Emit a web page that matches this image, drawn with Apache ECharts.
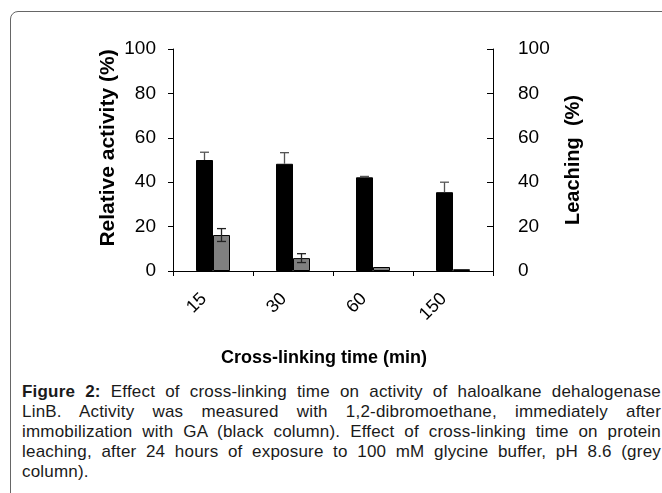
<!DOCTYPE html>
<html>
<head>
<meta charset="utf-8">
<script src="https://cdn.jsdelivr.net/npm/echarts@6/dist/echarts.min.js"></script>
<style>
  body { margin: 0; background: #fff; }
  #frame {
    position: absolute; left: 10px; top: 11px; width: 720px; height: 600px;
    border: 1px solid #666; border-radius: 8px;
  }
  #chart { position: absolute; left: 0; top: 0; width: 662px; height: 372px; }
  #caption {
    position: absolute; left: 22px; top: 382px; width: 639px;
    font-family: "Liberation Sans", Arial, sans-serif; font-size: 17px;
    letter-spacing: 0.2px; line-height: 20px; color: #1a1a1a;
  }
  #caption div { text-align: justify; text-align-last: justify; white-space: nowrap; }
  #caption div.last { text-align-last: left; }
</style>
</head>
<body>
<div id="frame"></div>
<div id="chart"></div>
<div id="caption">
  <div><b>Figure 2:</b> Effect of cross-linking time on activity of haloalkane dehalogenase</div>
  <div>LinB. Activity was measured with 1,2-dibromoethane, immediately after</div>
  <div>immobilization with GA (black column). Effect of cross-linking time on protein</div>
  <div>leaching, after 24 hours of exposure to 100 mM glycine buffer, pH 8.6 (grey</div>
  <div class="last">column).</div>
</div>
<script>
const categories = ["15", "30", "60", "150"];
const activity = [50, 48.3, 42.2, 35.5];
const activityErr = [3.5, 5, 0.4, 4.5];
const leaching = [16.2, 5.8, 1.8, 0.8];
const leachingErr = [2.9, 2, 0, 0];

const font = "Liberation Sans";
const barW = 17;

// error bars drawn on the library's coordinates; the black bars only show the upper half
function errorSeries(values, errs, side, yIndex, color, upperOnly) {
  return {
    type: "custom",
    yAxisIndex: yIndex,
    z: 5,
    data: values.map((v, i) => [i, v, errs[i]]),
    renderItem: function (params, api) {
      const i = api.value(0), v = api.value(1), e = api.value(2);
      if (!e) return;
      const top = api.coord([i, v + e]);
      const mid = api.coord([i, v]);
      const bot = api.coord([i, v - e]);
      const x = top[0] + side * barW / 2;
      const cap = 4.5;
      const style = { stroke: color, lineWidth: 1.3 };
      const kids = [
        { type: "line", shape: { x1: x, y1: top[1], x2: x, y2: upperOnly ? mid[1] : bot[1] }, style: style },
        { type: "line", shape: { x1: x - cap, y1: top[1], x2: x + cap, y2: top[1] }, style: style }
      ];
      if (!upperOnly) {
        kids.push({ type: "line", shape: { x1: x - cap, y1: bot[1], x2: x + cap, y2: bot[1] }, style: style });
      }
      return { type: "group", children: kids };
    }
  };
}

const chart = echarts.init(document.getElementById("chart"));
chart.setOption({
  animation: false,
  textStyle: { fontFamily: font, color: "#000" },
  grid: { left: 173, right: 169, top: 49, height: 224 },
  xAxis: {
    type: "category",
    data: categories,
    name: "Cross-linking time (min)",
    nameLocation: "middle",
    nameGap: 78,
    nameTextStyle: { fontSize: 18, fontWeight: "bold", color: "#000", padding: [0, 18, 0, 0] },
    axisLine: { lineStyle: { color: "#000", width: 1 } },
    axisTick: { show: true, length: 5, lineStyle: { color: "#000" } },
    axisLabel: { rotate: 45, fontSize: 18, color: "#000", margin: 16, padding: [0, 13, 0, 0] }
  },
  yAxis: [
    {
      type: "value", min: 0, max: 100, interval: 20,
      name: "Relative activity (%)",
      nameLocation: "middle", nameRotate: 90, nameGap: 54,
      nameTextStyle: { fontSize: 21, fontWeight: "bold", color: "#000", padding: [0, 0, 0, 24] },
      axisLine: { show: true, lineStyle: { color: "#000", width: 1 } },
      axisTick: { show: true, length: 5, lineStyle: { color: "#000" } },
      axisLabel: { fontSize: 19, color: "#000", margin: 17 },
      splitLine: { show: false }
    },
    {
      type: "value", min: 0, max: 100, interval: 20, position: "right",
      name: "Leaching  (%)",
      nameLocation: "middle", nameRotate: 90, nameGap: 70,
      nameTextStyle: { fontSize: 20, fontWeight: "bold", color: "#000" },
      axisLine: { show: true, lineStyle: { color: "#000", width: 1 } },
      axisTick: { show: true, inside: true, length: 6, lineStyle: { color: "#000" } },
      axisLabel: { fontSize: 19, color: "#000", margin: 25 },
      splitLine: { show: false }
    }
  ],
  series: [
    {
      name: "activity", type: "bar", yAxisIndex: 0, data: activity,
      barWidth: barW, barGap: "0%",
      itemStyle: { color: "#000", borderColor: "#000", borderWidth: 1 }
    },
    {
      name: "leaching", type: "bar", yAxisIndex: 1, data: leaching,
      barWidth: barW, barGap: "0%",
      itemStyle: { color: "#808080", borderColor: "#000", borderWidth: 1 }
    },
    errorSeries(activity, activityErr, -1, 0, "#555", true),
    errorSeries(leaching, leachingErr, 1, 1, "#222", false)
  ]
});
</script>
</body>
</html>
